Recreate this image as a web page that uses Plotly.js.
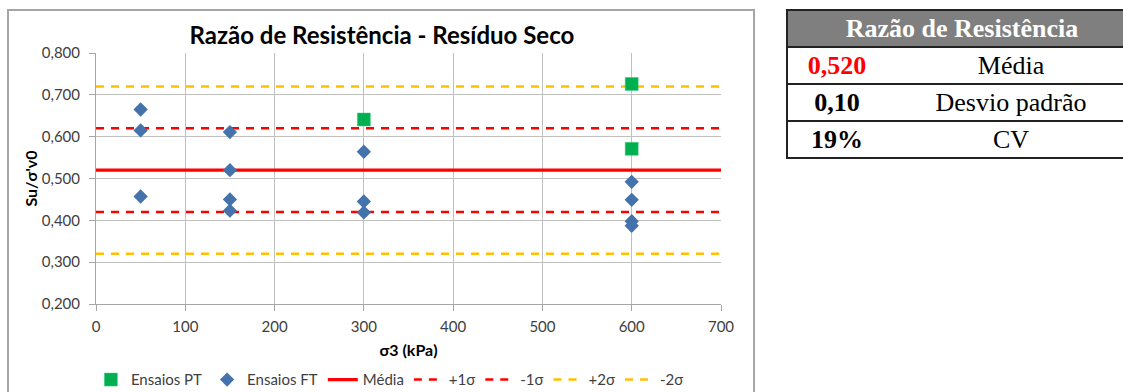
<!DOCTYPE html>
<html>
<head>
<meta charset="utf-8">
<script src="https://cdn.plot.ly/plotly-3.0.1.min.js"></script>
<style>
html,body{margin:0;padding:0;width:1123px;height:392px;overflow:hidden;background:#fff;}
#frame{position:absolute;left:7px;top:9px;width:748px;height:400px;border:2px solid #a6a6a6;box-sizing:border-box;}
#chart{position:absolute;left:0;top:0;width:760px;height:392px;}
#tbl{position:absolute;left:786px;top:9px;width:350px;border-collapse:collapse;font-family:"Liberation Serif","Times New Roman",serif;font-size:26px;}
#tbl td,#tbl th{border-top:2px solid #222;border-bottom:2px solid #222;padding:0;height:35px;line-height:30px;text-align:center;}
#tbl th{background:#7f7f7f;color:#fff;font-weight:bold;border-left:2px solid #222;}
#tbl td.v{font-weight:bold;width:98px;border-left:2px solid #222;}
</style>
</head>
<body>
<div id="frame"></div>
<div id="chart"></div>
<table id="tbl"></table>
<script>
// ---- data ----
const ptX = [300, 600, 600];
const ptY = [0.641, 0.726, 0.571];
const ftX = [50, 50, 50, 150, 150, 150, 150, 300, 300, 300, 600, 600, 600, 600];
const ftY = [0.665, 0.615, 0.457, 0.611, 0.520, 0.450, 0.423, 0.564, 0.445, 0.419, 0.492, 0.449, 0.398, 0.387];
const media = 0.520;
const desvio = 0.10;
const lineX = [0, 700];
const lineNames = ["Média", "+1σ", "-1σ", "+2σ", "-2σ"];
const lineLevels = [media, media + desvio, media - desvio, media + 2 * desvio, media - 2 * desvio];
const tableHeader = "Razão de Resistência";
const tableValues = ["0,520", "0,10", "19%"];
const tableLabels = ["Média", "Desvio padrão", "CV"];

// ---- chart ----
const lineColors = ["#ff0000", "#ff0000", "#ff0000", "#ffc000", "#ffc000"];
const lineDash = ["solid", "8px,7px", "8px,7px", "8px,7px", "8px,7px"];
const lineWidth = [3.2, 2.5, 2.5, 2.5, 2.5];

const traces = [
  {x: ptX, y: ptY, type: "scatter", mode: "markers", name: "Ensaios PT",
   marker: {symbol: "square", size: 13, color: "#00b050", line: {width: 0.5, color: "#3fcf7f"}}},
  {x: ftX, y: ftY, type: "scatter", mode: "markers", name: "Ensaios FT",
   marker: {symbol: "diamond", size: 11, color: "#4472ab", line: {width: 0}}}
];
lineNames.forEach((n, i) => {
  traces.push({x: lineX, y: [lineLevels[i], lineLevels[i]], type: "scatter", mode: "lines", name: n,
    line: {color: lineColors[i], width: lineWidth[i], dash: lineDash[i]}, hoverinfo: "skip"});
});
const ordered = traces.slice(2).concat(traces.slice(0, 2));
const legendOrder = {"Ensaios PT": 1, "Ensaios FT": 2, "Média": 3, "+1σ": 4, "-1σ": 5, "+2σ": 6, "-2σ": 7};
ordered.forEach(t => t.legendrank = legendOrder[t.name]);

const font = "Lato, 'Open Sans', sans-serif";
const layout = {
  width: 760, height: 392,
  margin: {l: 95.5, r: 39, t: 53, b: 88},
  paper_bgcolor: "rgba(0,0,0,0)", plot_bgcolor: "#fff",
  separators: ",.",
  font: {family: font, size: 15, color: "#404040"},
  title: {text: "Razão de Resistência - Resíduo Seco", font: {family: font, size: 24, color: "#000", weight: "bold"},
          xref: "container", x: 0.5025, xanchor: "center", yref: "container", y: 0.908, yanchor: "middle"},
  xaxis: {range: [0, 700], dtick: 100, tick0: 0, showgrid: true, gridcolor: "#c0c0c0", gridwidth: 1,
          showline: true, linecolor: "#a6a6a6", linewidth: 1, ticks: "outside", ticklen: 6, tickcolor: "#a6a6a6",
          zeroline: false, automargin: false, tickfont: {size: 15, color: "#404040"}, ticklabelstandoff: 3,
          title: {text: "σ3 (kPa)", font: {size: 16, color: "#000", weight: "bold"}, standoff: 10}},
  yaxis: {range: [0.2, 0.8], dtick: 0.1, tick0: 0.2, tickformat: ".3f", showgrid: true, gridcolor: "#c0c0c0", gridwidth: 1,
          showline: true, linecolor: "#a6a6a6", linewidth: 1, ticks: "outside", ticklen: 6, tickcolor: "#a6a6a6",
          zeroline: false, automargin: false, tickfont: {size: 15, color: "#404040"}, ticklabelstandoff: 6,
          title: {text: "Su/σ'v0", font: {size: 16, color: "#000", weight: "bold"}, standoff: 0}},
  showlegend: true,
  legend: {orientation: "h", xref: "container", x: 0.513, xanchor: "center", yref: "container", y: 0.031, yanchor: "middle",
           font: {size: 15, color: "#404040"}, itemwidth: 30, tracegroupgap: 0, bgcolor: "rgba(0,0,0,0)"}
};
Plotly.newPlot("chart", ordered, layout, {displayModeBar: false, staticPlot: true});

// ---- table ----
const tbl = document.getElementById("tbl");
let html = '<tr><th colspan="2">' + tableHeader + '</th></tr>';
tableValues.forEach((v, i) => {
  const col = i === 0 ? "#ff0000" : "#000";
  html += '<tr><td class="v" style="color:' + col + '">' + v + '</td><td>' + tableLabels[i] + '</td></tr>';
});
tbl.innerHTML = html;
</script>
</body>
</html>
